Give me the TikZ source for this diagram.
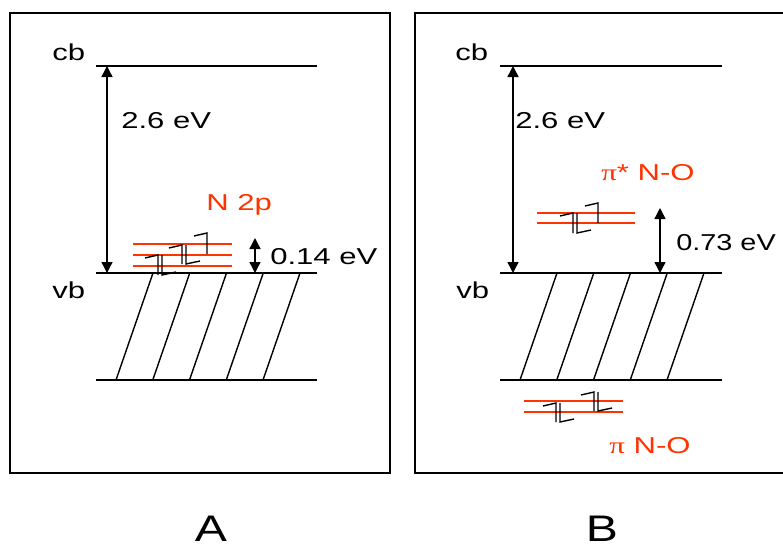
\documentclass[tikz,border=0pt]{standalone}
\usepackage{fontspec}
\setmainfont{Liberation Sans}
\newfontfamily\greekfont{Liberation Serif}
\usetikzlibrary{arrows.meta}

\definecolor{orbred}{RGB}{255,51,0}

\tikzset{
    frame/.style={line width=1.6pt},
    level/.style={line width=1.4pt},
    orbital/.style={orbred, line width=1.3pt},
    gaparrow/.style={{Triangle[length=11pt,width=11pt]}-{Triangle[length=11pt,width=11pt]}, line width=1.4pt},
    lbl/.style={font=\fontsize{23}{25}\selectfont, xscale=1.35, inner sep=0pt, anchor=base west},
    redlbl/.style={lbl, text=orbred},
    panel/.style={font=\fontsize{37}{39}\selectfont, xscale=1.3, inner sep=0pt, anchor=base},
    electron/.style={line width=1.4pt},
}

% half arrows for one electron: x, top y, bottom y
\newcommand{\spinup}[3]{\draw[electron] (#1-13,#2+3) -- (#1,#2) -- (#1,#3);}
\newcommand{\spindown}[3]{\draw[electron] (#1,#2) -- (#1,#3) -- (#1+14,#3-3);}
\newcommand{\epair}[3]{\spinup{#1}{#2}{#3}\spindown{#1+4}{#2}{#3}}

\begin{document}
\begin{tikzpicture}[x=1pt,y=-1pt]
    \useasboundingbox (0,0) rectangle (783,551);
    \clip (0,0) rectangle (783,551);

    % ---- panel A ----
    \draw[frame] (10,13) rectangle (390,473);
    \draw[level] (96,66) -- (317,66);
    \draw[level] (96,273) -- (317,273);
    \draw[level] (96,380) -- (317,380);
    \foreach \k in {0,...,4}
        \draw[level] (153+36.75*\k,273) -- (116+36.75*\k,380);
    \node[lbl] (cbA) at (52,60) {cb};
    \node[lbl] (vbA) at (52,298) {vb};
    \coordinate (cbtopA) at (107,66);
    \coordinate (vbtopA) at (107,273);
    \draw[gaparrow] (cbtopA) -- (vbtopA);
    \node[lbl] (bandgapA) at (121,128) {2.6 eV};
    \foreach \y in {244,255,266}
        \draw[orbital] (133,\y) -- (232,\y);
    \epair{158}{255}{275}
    \epair{182}{245}{264}
    \spinup{207}{233}{254}
    \node[redlbl] (nlevel) at (206,210) {N 2p};
    \coordinate (ntop) at (255,238);
    \coordinate (nbot) at (255,273);
    \draw[gaparrow] (ntop) -- (nbot);
    \node[lbl] (ngap) at (270,264) {0.14 eV};
    \node[panel] (labelA) at (211,541) {A};

    % ---- panel B ----
    \draw[frame] (415,13) rectangle (800,473);
    \draw[level] (500,66) -- (722,66);
    \draw[level] (500,273) -- (722,273);
    \draw[level] (500,380) -- (722,380);
    \foreach \k in {0,...,4}
        \draw[level] (557+36.75*\k,273) -- (520+36.75*\k,380);
    \node[lbl] (cbB) at (455,60) {cb};
    \node[lbl] (vbB) at (456,298) {vb};
    \coordinate (cbtopB) at (513,66);
    \coordinate (vbtopB) at (513,273);
    \draw[gaparrow] (cbtopB) -- (vbtopB);
    \node[lbl] (bandgapB) at (515,128) {2.6 eV};
    \foreach \y in {213,223}
        \draw[orbital] (537,\y) -- (635,\y);
    \epair{573}{213}{233}
    \spinup{598}{203}{223}
    \node[redlbl] (pistar) at (601,180) {{\greekfont π}* N-O};
    \coordinate (pistartop) at (660,208);
    \coordinate (pistarbot) at (660,273);
    \draw[gaparrow] (pistartop) -- (pistarbot);
    \node[lbl, xscale=0.93] (pistargap) at (676,250) {0.73 eV};
    \foreach \y in {401,412}
        \draw[orbital] (524,\y) -- (623,\y);
    \epair{556}{403}{422}
    \epair{594}{392}{411}
    \node[redlbl] (pilevel) at (609,453) {{\greekfont π} N-O};
    \node[panel] (labelB) at (602,541) {B};
\end{tikzpicture}
\end{document}
